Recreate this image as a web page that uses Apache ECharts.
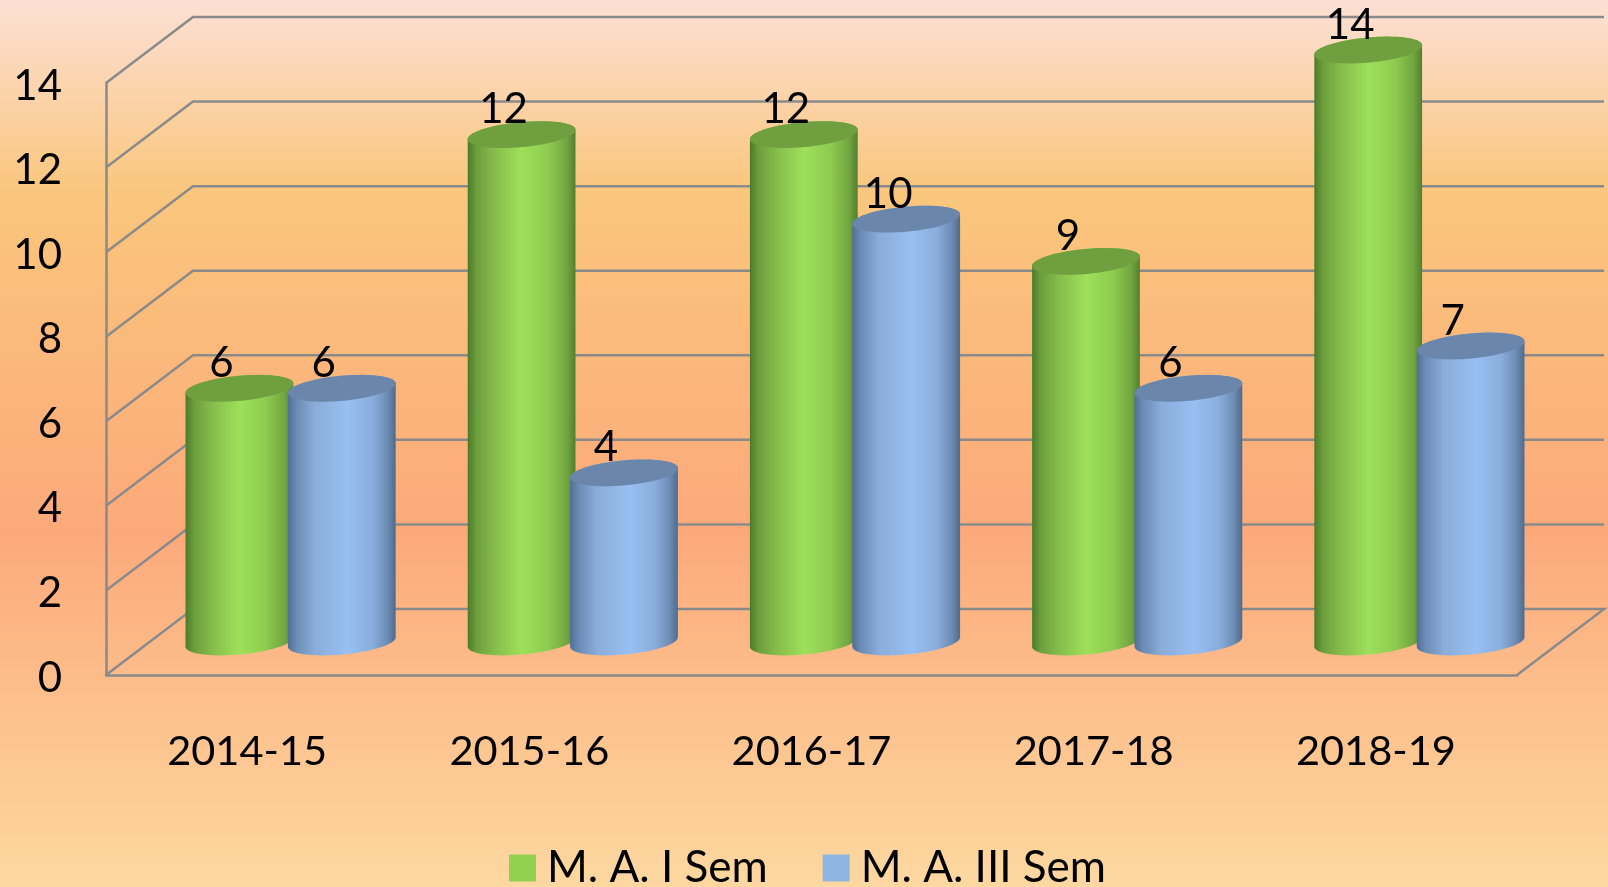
<!DOCTYPE html>
<html>
<head>
<meta charset="utf-8">
<title>M. A. enrolment</title>
<script src="https://cdn.jsdelivr.net/npm/echarts@6/dist/echarts.min.js"></script>
<style>
  html, body { margin: 0; padding: 0; }
  #chart { width: 1608px; height: 887px; }
</style>
</head>
<body>
<div id="chart"></div>
<script>
const categories = ['2014-15', '2015-16', '2016-17', '2017-18', '2018-19'];
const semOne = [6, 12, 12, 9, 14];
const semThree = [6, 4, 10, 6, 7];
const gridTicks = [0, 2, 4, 6, 8, 10, 12, 14];

const FONT = 'Lato';
const DEPTH_X = 87; // front wall to back wall
const DEPTH_Y = 66;
const RX = 54.1;    // cylinder ellipse
const RY = 12.5;
const TILT = -5.3 * Math.PI / 180;
const BAR_SHIFT = 51.2;
const LINE_COLOR = '#8a8a8a';
const LINE_WIDTH = 2.5;

const chart = echarts.init(document.getElementById('chart'));

// point on the tilted ellipse
const ellipsePoint = (cx, cy, t) => [
  cx + RX * Math.cos(t) * Math.cos(TILT) - RY * Math.sin(t) * Math.sin(TILT),
  cy + RX * Math.cos(t) * Math.sin(TILT) + RY * Math.sin(t) * Math.cos(TILT),
];

// angle where the ellipse reaches its right-most x
const T0 = Math.atan2(-RY * Math.sin(TILT), RX * Math.cos(TILT));

const cylinder = (shift, stops, capColor) => (params, api) => {
  const top = api.coord([api.value(0), api.value(1)]);
  const base = api.coord([api.value(0), 0]);
  const cx = top[0] + DEPTH_X / 2 + shift;
  const topY = top[1] - DEPTH_Y / 2;
  const baseY = base[1] - DEPTH_Y / 2;

  const body = [];
  const cap = [];
  for (let i = 0; i <= 48; i++) {
    body.push(ellipsePoint(cx, baseY, T0 + Math.PI * i / 48));
  }
  for (let i = 0; i <= 48; i++) {
    body.push(ellipsePoint(cx, topY, T0 + Math.PI + Math.PI * i / 48));
  }
  for (let i = 0; i < 96; i++) {
    cap.push(ellipsePoint(cx, topY, Math.PI * 2 * i / 96));
  }

  return {
    type: 'group',
    children: [
      {
        type: 'polygon',
        shape: { points: body },
        style: { fill: new echarts.graphic.LinearGradient(0, 0, 1, 0, stops) },
      },
      {
        type: 'polygon',
        shape: { points: cap },
        style: { fill: capColor },
      },
      {
        type: 'text',
        z2: 100,
        style: {
          x: cx - 18,
          y: topY - 25,
          text: String(api.value(1)),
          font: '42px ' + FONT,
          fill: '#000',
          align: 'center',
          verticalAlign: 'middle',
        },
      },
    ],
  };
};

// slanted side wall + back wall line for every tick
const wallLine = (params, api) => {
  const box = params.coordSys;
  const y = api.coord([0, api.value(0)])[1];
  const points = [
    [box.x, y],
    [box.x + DEPTH_X, y - DEPTH_Y],
    [box.x + box.width + DEPTH_X, y - DEPTH_Y],
  ];
  // the floor closes on the right
  if (api.value(0) === 0) {
    points.push([box.x + box.width, y]);
  }
  return {
    type: 'polyline',
    shape: { points },
    style: { stroke: LINE_COLOR, lineWidth: LINE_WIDTH, fill: null },
  };
};

const greenStops = [
  { offset: 0, color: '#4c7a2a' },
  { offset: 0.08, color: '#6c9e3c' },
  { offset: 0.25, color: '#86bd4c' },
  { offset: 0.5, color: '#9de05a' },
  { offset: 0.75, color: '#8ecb50' },
  { offset: 0.92, color: '#72a540' },
  { offset: 1, color: '#537f2e' },
];
const blueStops = [
  { offset: 0, color: '#4f6f94' },
  { offset: 0.08, color: '#6a8cb5' },
  { offset: 0.25, color: '#8aadd9' },
  { offset: 0.55, color: '#98bff2' },
  { offset: 0.78, color: '#8aaedd' },
  { offset: 0.92, color: '#6d8db5' },
  { offset: 1, color: '#4f6b8d' },
];

const option = {
  animation: false,
  backgroundColor: new echarts.graphic.LinearGradient(0, 0, 0, 1, [
    { offset: 0, color: '#fde0d5' },
    { offset: 0.22, color: '#fac67c' },
    { offset: 0.6, color: '#fca97a' },
    { offset: 1, color: '#fdd8a0' },
  ]),
  grid: { left: 106, right: 91, top: 83, bottom: 212 },
  legend: {
    left: 504,
    top: 841,
    icon: 'rect',
    itemWidth: 27,
    itemHeight: 27,
    itemGap: 55,
    textStyle: { fontFamily: FONT, fontSize: 44, color: '#000', padding: [0, 0, 0, 6] },
    data: ['M. A. I Sem', 'M. A. III Sem'],
  },
  xAxis: {
    type: 'category',
    data: categories,
    axisLine: { show: true, lineStyle: { color: LINE_COLOR, width: LINE_WIDTH } },
    axisTick: { show: false },
    axisLabel: { fontFamily: FONT, fontSize: 41.5, color: '#000', margin: 56 },
  },
  yAxis: {
    type: 'value',
    min: 0,
    max: 14,
    interval: 2,
    axisLine: { show: true, lineStyle: { color: LINE_COLOR, width: LINE_WIDTH } },
    axisTick: { show: false },
    splitLine: { show: false },
    // short line box hung from the tick: sits the digits a little under it
    axisLabel: { fontFamily: FONT, fontSize: 42, color: '#000', margin: 44, verticalAlign: 'top', lineHeight: 6 },
  },
  series: [
    {
      type: 'custom',
      silent: true,
      z: 1,
      encode: { y: 0 },
      data: gridTicks.map((v) => [v]),
      renderItem: wallLine,
    },
    {
      name: 'M. A. I Sem',
      type: 'custom',
      z: 2,
      itemStyle: { color: '#92d050' },
      encode: { x: 0, y: 1 },
      data: semOne.map((v, i) => [i, v]),
      renderItem: cylinder(-BAR_SHIFT, greenStops, '#6f9f3e'),
    },
    {
      name: 'M. A. III Sem',
      type: 'custom',
      z: 3,
      itemStyle: { color: '#8eb4e3' },
      encode: { x: 0, y: 1 },
      data: semThree.map((v, i) => [i, v]),
      renderItem: cylinder(BAR_SHIFT, blueStops, '#6a86ab'),
    },
  ],
};

chart.setOption(option);
</script>
</body>
</html>
